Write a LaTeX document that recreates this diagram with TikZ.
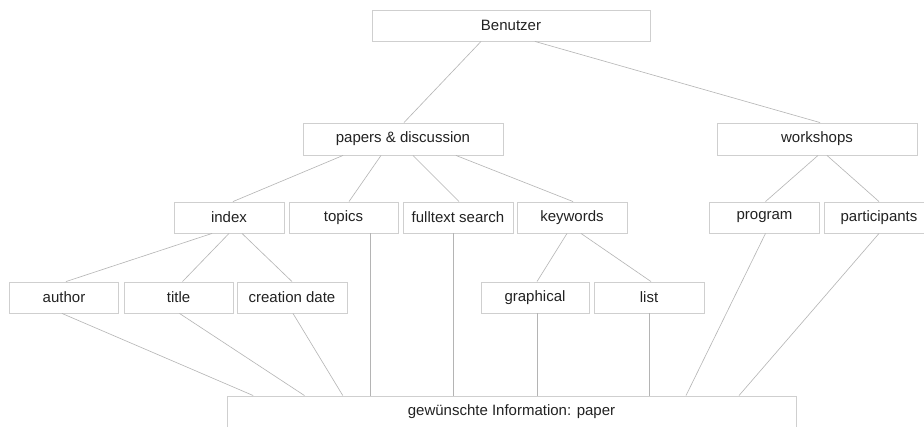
\documentclass[tikz,border=0pt]{standalone}
\usepackage{fontspec}
\setmainfont{Liberation Sans}
\begin{document}
\begin{tikzpicture}[x=1pt,y=-1pt,
  box/.style={draw=boxgray, line width=0.9pt, rectangle, inner sep=0pt, text=textgray,
    font=\fontsize{15}{18}\selectfont, minimum height=31pt},
  wbox/.style={box, minimum width=110pt},
  conn/.style={draw=linegray, line width=0.6pt}]
\definecolor{boxgray}{HTML}{CFCFCF}
\definecolor{linegray}{HTML}{B4B4B4}
\definecolor{textgray}{HTML}{222222}
\useasboundingbox (0,0) rectangle (924,426);
\fill[white] (0,0) rectangle (924,426);
% nodes
\node[box, minimum width=278pt] (ben) at (511,25.5) {Benutzer};
\node[box, minimum width=200pt, minimum height=32pt] (pap) at (403,139) {papers \& discussion};
\node[box, minimum width=200pt, minimum height=32pt] (ws) at (817,139) {workshops};
\node[wbox] (idx) at (229,217.5) {index};
\node[wbox, minimum width=109pt] (top) at (343.5,217.5) {topics};
\node[wbox] (ful) at (458,217.5) {fulltext search};
\node[wbox] (key) at (572,217.5) {keywords};
\node[wbox] (prg) at (764.5,217.5) {program};
\node[wbox] (par) at (879,217.5) {participants};
\node[wbox, minimum width=109pt] (aut) at (64,297.5) {author};
\node[wbox, minimum width=109pt] (tit) at (178.5,297.5) {title};
\node[wbox] (cre) at (292,297.5) {creation date};
\node[wbox, minimum width=108pt] (gra) at (535,297.5) {graphical};
\node[wbox] (lst) at (649,297.5) {list};
\node[box, minimum width=569pt, minimum height=32pt] (inf) at (511.5,412) {gewünschte Information: paper};
% connectors
\draw[conn] ([xshift=-30pt]ben.south) -- ([xshift=1pt]pap.north);
\draw[conn] ([xshift=24pt]ben.south) -- ([xshift=3pt]ws.north);
\draw[conn] ([xshift=-60pt]pap.south) -- ([xshift=4pt]idx.north);
\draw[conn] ([xshift=-22pt]pap.south) -- ([xshift=5.5pt]top.north);
\draw[conn] ([xshift=10pt]pap.south) -- ([xshift=1pt]ful.north);
\draw[conn] ([xshift=53pt]pap.south) -- ([xshift=1pt]key.north);
\draw[conn] ([xshift=1pt]ws.south) -- ([xshift=1pt]prg.north);
\draw[conn] ([xshift=10pt]ws.south) -- (par.north);
\draw[conn] ([xshift=-17pt]idx.south) -- ([xshift=2pt]aut.north);
\draw[conn] (idx.south) -- ([xshift=4pt]tit.north);
\draw[conn] ([xshift=13pt]idx.south) -- (cre.north);
\draw[conn] ([xshift=-5pt]key.south) -- ([xshift=2pt]gra.north);
\draw[conn] ([xshift=9pt]key.south) -- ([xshift=2pt]lst.north);
\draw[conn] ([xshift=-2pt]aut.south) -- ([xshift=-258.3pt]inf.north);
\draw[conn] ([xshift=1pt]tit.south) -- ([xshift=-207pt]inf.north);
\draw[conn] ([xshift=1pt]cre.south) -- ([xshift=-168.7pt]inf.north);
\draw[conn] ([xshift=26.5pt]top.south) -- ([xshift=-141.5pt]inf.north);
\draw[conn] ([xshift=-5pt]ful.south) -- ([xshift=-58.5pt]inf.north);
\draw[conn] ([xshift=2.5pt]gra.south) -- ([xshift=26pt]inf.north);
\draw[conn] (lst.south) -- ([xshift=137.5pt]inf.north);
\draw[conn] ([xshift=1pt]prg.south) -- ([xshift=174.5pt]inf.north);
\draw[conn] (par.south) -- ([xshift=227.5pt]inf.north);
\end{tikzpicture}
\end{document}
